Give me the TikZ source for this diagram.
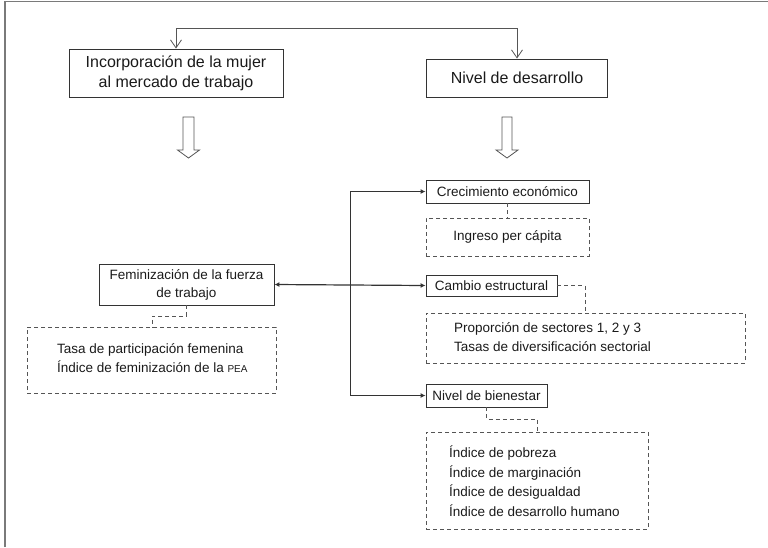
\documentclass[tikz,border=0pt]{standalone}
\usepackage{fontspec}
\setmainfont{Liberation Sans}
\usetikzlibrary{arrows.meta}
\definecolor{edge}{HTML}{333333}
\definecolor{lin}{HTML}{555555}
\definecolor{frm}{HTML}{7A7A7A}
\definecolor{ink}{HTML}{1A1A1A}
\tikzset{
  bigbox/.style={draw=edge, line width=0.9pt, inner sep=0pt, align=center, text=ink, font=\fontsize{16}{20}\selectfont},
  smallbox/.style={draw=edge, line width=0.9pt, inner sep=0pt, align=center, text=ink, font=\fontsize{13.5}{18}\selectfont},
  dbox/.style={draw=lin, line width=0.8pt, dash pattern=on 4pt off 3pt, inner sep=0pt},
  txt/.style={inner sep=0pt, align=left, anchor=west, text=ink, font=\fontsize{13.5}{19.5}\selectfont},
  dlink/.style={draw=lin, line width=0.8pt, dash pattern=on 4pt off 3pt},
  toplink/.style={draw=lin, line width=0.8pt, {Straight Barb[length=8pt,width=11pt]}-{Straight Barb[length=8pt,width=11pt]}},
  buslink/.style={draw=edge, line width=0.9pt},
  busarrow/.style={draw=edge, line width=0.9pt, -{Latex[length=5pt,width=5pt]}},
  hollow/.style={draw=lin, line width=0.8pt, fill=white, line join=miter}
}
\begin{document}
\begin{tikzpicture}[x=1pt,y=-1pt]
\useasboundingbox (0,0) rectangle (768,547);
% frame
\draw[frm, line width=1.4pt] (5,547) -- (5,1.5) -- (768,1.5);

% top boxes
\node[bigbox, minimum width=214pt, minimum height=48pt] (inc) at (176,73) {Incorporación de la mujer\\al mercado de trabajo};
\node[bigbox, minimum width=181pt, minimum height=38pt] (niv) at (517,78) {Nivel de desarrollo};
\draw[toplink] (inc.north) -- ++(0,-20) coordinate (tl) -| (niv.north);

% hollow arrows
\draw[hollow] (183,117) -- (194,117) -- (194,150) -- (199.5,150) -- (188.5,158) -- (177.5,150) -- (183,150) -- cycle;
\draw[hollow] (502,117) -- (512,117) -- (512,150) -- (518,150) -- (507,158) -- (496,150) -- (502,150) -- cycle;

% right column
\node[smallbox, minimum width=163pt, minimum height=23pt] (cre) at (507.5,191.5) {Crecimiento económico};
\node[dbox, minimum width=163pt, minimum height=38pt] (ing) at (507.5,237) {};
\node[txt, anchor=center] (ingt) at (507.5,237) {Ingreso per cápita};
\draw[dlink] (cre.south) -- (ing.north);

\node[smallbox, minimum width=131pt, minimum height=21pt] (cam) at (491.5,285.5) {Cambio estructural};
\node[dbox, minimum width=319pt, minimum height=50pt] (prop) at (585.5,338) {};
\node[txt] (propt) at (454,337) {Proporción de sectores 1, 2 y 3\\Tasas de diversificación sectorial};
\draw[dlink] (cam.east) -- (585,285.5) -- (585,313);

\node[smallbox, minimum width=121pt, minimum height=23pt] (bien) at (486.5,395.5) {Nivel de bienestar};
\node[dbox, minimum width=222pt, minimum height=97pt] (ind) at (537,480.5) {};
\node[txt] (indt) at (449,481) {Índice de pobreza\\Índice de marginación\\Índice de desigualdad\\Índice de desarrollo humano};
\draw[dlink] (bien.south) -- (486.5,419) -- (537,419) -- (ind.north);

% left column
\node[smallbox, minimum width=175pt, minimum height=41pt] (fem) at (186.5,284.5) {Feminización de la fuerza\\de trabajo};
\node[dbox, minimum width=249pt, minimum height=66pt] (tasa) at (151.5,360) {};
\node[txt] (tasat) at (57,358) {Tasa de participación femenina\\Índice de feminización de la {\fontsize{10}{12}\selectfont PEA}};
\draw[dlink] (fem.south) -- (186.5,316) -- (152,316) -- (152,327);

% bus
\coordinate (bus) at (350,0);
\draw[buslink] (cre.west -| bus) -- (bien.west -| bus);
\draw[busarrow] (cre.west -| bus) -- (cre.west);
\draw[busarrow] (bien.west -| bus) -- (bien.west);
\draw[draw=edge, line width=1.2pt, {Latex[length=5pt,width=5pt]}-{Latex[length=5pt,width=5pt]}] (fem.east) -- (cam.west);
\end{tikzpicture}
\end{document}
